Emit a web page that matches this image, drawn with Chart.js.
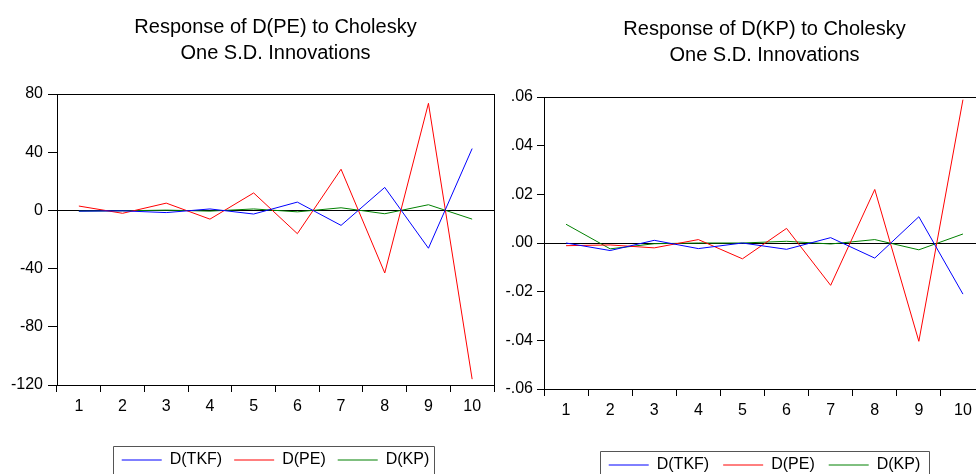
<!DOCTYPE html>
<html>
<head>
<meta charset="utf-8">
<script src="https://cdn.jsdelivr.net/npm/chart.js@4.4.0/dist/chart.umd.min.js"></script>
<style>
  html, body { margin: 0; padding: 0; background: #fff; }
  body { width: 976px; height: 474px; overflow: hidden; position: relative; }
  canvas { position: absolute; top: 0; }
  #left-chart { left: 0; }
  #right-chart { left: 496px; }
</style>
</head>
<body>
<canvas id="left-chart" width="496" height="478"></canvas>
<canvas id="right-chart" width="504" height="483"></canvas>
<script>
// horizons
var periods = ['1', '2', '3', '4', '5', '6', '7', '8', '9', '10'];
var seriesNames = ['D(TKF)', 'D(PE)', 'D(KP)'];

// response of D(PE)
var peTkf = [-0.5, -0.3, -1.5, 1, -2.5, 5.7, -10.3, 15.8, -26, 42.5];
var pePe  = [3, -2, 5, -6, 12, -16, 28.3, -43, 73.6, -116];
var peKp  = [-0.5, -0.3, 0.2, -0.5, 1, -1, 1.8, -2.3, 3.9, -6];
var peTickValues = [-120, -80, -40, 0, 40, 80];
var peTickLabels = ['-120', '-80', '-40', '0', '40', '80'];

// response of D(KP)
var kpTkf = [0, -0.0031, 0.0011, -0.0023, 0, -0.0026, 0.0022, -0.0062, 0.0108, -0.021];
var kpPe  = [-0.0011, -0.0008, -0.002, 0.0014, -0.0065, 0.006, -0.0174, 0.022, -0.0404, 0.0589];
var kpKp  = [0.0077, -0.0024, -0.0003, 0, 0, 0.0007, -0.0004, 0.0014, -0.0028, 0.0037];
var kpTickValues = [-0.06, -0.04, -0.02, 0, 0.02, 0.04, 0.06];
var kpTickLabels = ['-.06', '-.04', '-.02', '.00', '.02', '.04', '.06'];

var blue = '#0000ff';
var red = '#ff0000';
var green = '#008000';
var fontFamily = "'Liberation Sans', Arial, sans-serif";

// frame round the plot, zero line, box round the legend
var framePlugin = {
    id: 'frame',
    beforeDatasetsDraw: function(chart) {
        var a = chart.chartArea;
        var ctx = chart.ctx;
        var y0 = Math.round(chart.scales.y.getPixelForValue(0)) + 0.5;
        ctx.save();
        ctx.strokeStyle = '#000';
        ctx.lineWidth = 1;
        ctx.beginPath();
        ctx.moveTo(a.left, y0);
        ctx.lineTo(a.right, y0);
        ctx.stroke();
        ctx.restore();
    },
    afterDraw: function(chart, args, opts) {
        var a = chart.chartArea;
        var ctx = chart.ctx;
        ctx.save();
        ctx.strokeStyle = '#000';
        ctx.lineWidth = 1;
        ctx.strokeRect(Math.round(a.left) + 0.5, Math.round(a.top) + 0.5,
            Math.round(a.right - a.left), Math.round(a.bottom - a.top));
        var boxes = chart.legend.legendHitBoxes;
        if (boxes && boxes.length) {
            var first = boxes[0];
            var last = boxes[boxes.length - 1];
            var cy = first.top + first.height / 2;
            var x1 = Math.round(first.left - 9) + 0.5;
            var x2 = Math.round(last.left + last.width + (opts.extraRight || 5)) + 0.5;
            var y1 = Math.round(cy - 14) + 0.5;
            ctx.strokeStyle = '#555';
            ctx.beginPath();
            ctx.moveTo(x1, chart.height + 5);
            ctx.lineTo(x1, y1);
            ctx.lineTo(x2, y1);
            ctx.lineTo(x2, chart.height + 5);
            ctx.stroke();
        }
        ctx.restore();
    }
};

var makeChart = function(id, title, tkf, pe, kp, tickValues, tickLabels, o) {
    var ctx = document.getElementById(id).getContext('2d');
    return new Chart(ctx, {
        type: 'line',
        data: {
            labels: periods,
            datasets: [
                { label: seriesNames[0], data: tkf, borderColor: blue, backgroundColor: blue },
                { label: seriesNames[1], data: pe, borderColor: red, backgroundColor: red },
                { label: seriesNames[2], data: kp, borderColor: green, backgroundColor: green }
            ]
        },
        options: {
            responsive: false,
            animation: false,
            devicePixelRatio: 1,
            layout: { padding: { left: 0, right: o.padRight, top: 0, bottom: 0 } },
            elements: {
                line: { borderWidth: 1, tension: 0 },
                point: { radius: 0, hoverRadius: 0 }
            },
            plugins: {
                tooltip: { enabled: false },
                frame: { extraRight: o.legendExtra },
                title: {
                    display: true,
                    text: title,
                    fullSize: false,
                    color: '#000',
                    font: { family: fontFamily, size: 20, weight: 'normal', lineHeight: 1.3 },
                    padding: { top: o.titleTop, bottom: o.titleBottom }
                },
                legend: {
                    display: true,
                    position: 'bottom',
                    fullSize: false,
                    labels: {
                        usePointStyle: true,
                        pointStyle: 'line',
                        pointStyleWidth: 40,
                        color: '#000',
                        padding: o.legendPad,
                        font: { family: fontFamily, size: 16 }
                    }
                }
            },
            scales: {
                x: {
                    offset: true,
                    grid: { display: true, offset: true, drawOnChartArea: false, drawTicks: true, tickLength: 7, color: '#000' },
                    border: { display: true, color: '#000' },
                    ticks: { color: '#000', padding: 5, maxRotation: 0, autoSkip: false, font: { family: fontFamily, size: 16 } },
                    afterFit: function(scale) { scale.height = o.xHeight; }
                },
                y: {
                    min: tickValues[0],
                    max: tickValues[tickValues.length - 1],
                    grid: { display: true, drawOnChartArea: false, drawTicks: true, tickLength: o.yTick, color: '#000' },
                    border: { display: true, color: '#000' },
                    afterBuildTicks: function(scale) {
                        scale.ticks = tickValues.map(function(v) { return { value: v }; });
                    },
                    ticks: {
                        color: '#000',
                        padding: o.yPad,
                        font: { family: fontFamily, size: 16 },
                        callback: function(value, index) { return tickLabels[index]; }
                    },
                    afterFit: function(scale) { scale.width = o.yWidth; }
                }
            }
        },
        plugins: [framePlugin]
    });
};

makeChart('left-chart', ['Response of D(PE) to Cholesky', 'One S.D. Innovations'],
    peTkf, pePe, peKp, peTickValues, peTickLabels,
    { padRight: 2, titleTop: 14, titleBottom: 28, xHeight: 55, yWidth: 57, yTick: 9, yPad: 5, legendPad: 12, legendExtra: 5 });

makeChart('right-chart', ['Response of D(KP) to Cholesky', 'One S.D. Innovations'],
    kpTkf, kpPe, kpKp, kpTickValues, kpTickLabels,
    { padRight: 15, titleTop: 16, titleBottom: 29, xHeight: 54, yWidth: 48, yTick: 7, yPad: 4, legendPad: 14, legendExtra: 9 });
</script>
</body>
</html>
